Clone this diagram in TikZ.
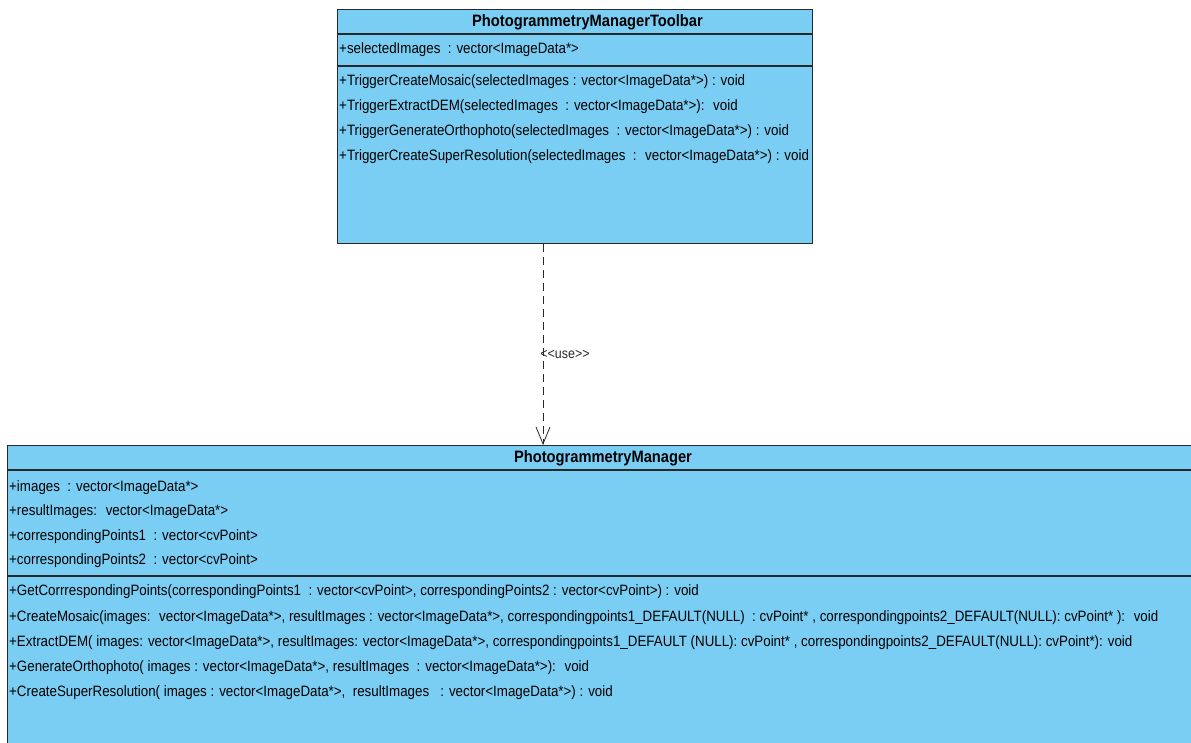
\documentclass[tikz,border=0pt]{standalone}
\usepackage{fontspec}
\setmainfont{Liberation Sans}[FakeStretch=0.89]
\usepackage{xcolor}
\definecolor{umlblue}{RGB}{122,206,244}
\definecolor{umledge}{RGB}{40,40,40}
\usetikzlibrary{arrows.meta}
\tikzset{
  classbox/.style={draw=umledge,fill=umlblue,line width=1.3pt,anchor=north west,inner sep=0pt},
  member/.style={anchor=west,inner sep=0pt,font=\fontsize{15}{17}\selectfont},
  classname/.style={inner sep=0pt,font=\fontsize{16.5}{18}\selectfont\bfseries},
  usedep/.style={umledge,line width=0.8pt,dash pattern=on 8pt off 5pt,-{Straight Barb[length=17pt,width=14pt,line width=0.8pt]}}
}

\begin{document}
\begin{tikzpicture}[x=1pt,y=-1pt]
  \useasboundingbox (0,0) rectangle (1191,742);
  \clip (0,0) rectangle (1191,742);
  % toolbar class
  \node[classbox,minimum width=475pt,minimum height=234pt] (toolbar) at (337,9) {};
  \draw[umledge,line width=1.3pt] ([yshift=-25pt]toolbar.north west) -- ([yshift=-25pt]toolbar.north east);
  \draw[umledge,line width=1.3pt] ([yshift=-57pt]toolbar.north west) -- ([yshift=-57pt]toolbar.north east);
  \node[classname] (tbname) at (587.5,22) {PhotogrammetryManagerToolbar};
  \node[member] (tbattr) at (339,50) {+selectedImages \ : vector<ImageData*>};
  \node[member] (tbop1) at (339,82) {+TriggerCreateMosaic(selectedImages : vector<ImageData*>) : void};
  \node[member] (tbop2) at (339,107) {+TriggerExtractDEM(selectedImages \ : vector<ImageData*>): \ void};
  \node[member] (tbop3) at (339,132) {+TriggerGenerateOrthophoto(selectedImages \ : vector<ImageData*>) : void};
  \node[member] (tbop4) at (339,157) {+TriggerCreateSuperResolution(selectedImages \ : \ vector<ImageData*>) : void};
  % manager class
  \node[classbox,minimum width=1200pt,minimum height=310pt] (manager) at (7,445) {};
  \draw[umledge,line width=1.3pt] ([yshift=-25pt]manager.north west) -- ([yshift=-25pt]manager.north east);
  \draw[umledge,line width=1.3pt] ([yshift=-131pt]manager.north west) -- ([yshift=-131pt]manager.north east);
  \node[classname] (mgname) at (603,458) {PhotogrammetryManager};
  \node[member] (mgattr1) at (9,488) {+images \ : vector<ImageData*>};
  \node[member] (mgattr2) at (9,512) {+resultImages: \ vector<ImageData*>};
  \node[member] (mgattr3) at (9,537) {+correspondingPoints1 \ : vector<cvPoint>};
  \node[member] (mgattr4) at (9,561) {+correspondingPoints2 \ : vector<cvPoint>};
  \node[member] (mgop1) at (9,592) {+GetCorrrespondingPoints(correspondingPoints1 \ : vector<cvPoint>, correspondingPoints2 : vector<cvPoint>) : void};
  \node[member] (mgop2) at (9,618) {+CreateMosaic(images: \ vector<ImageData*>, resultImages : vector<ImageData*>, correspondingpoints1\_DEFAULT(NULL) \ : cvPoint* , correspondingpoints2\_DEFAULT(NULL): cvPoint* ): \ void};
  \node[member] (mgop3) at (9,643) {+ExtractDEM( images: vector<ImageData*>, resultImages: vector<ImageData*>, correspondingpoints1\_DEFAULT (NULL): cvPoint* , correspondingpoints2\_DEFAULT(NULL): cvPoint*): void};
  \node[member] (mgop4) at (9,668) {+GenerateOrthophoto( images : vector<ImageData*>, resultImages \ : vector<ImageData*>): \ void};
  \node[member] (mgop5) at (9,693) {+CreateSuperResolution( images : vector<ImageData*>, \ resultImages \ \ : vector<ImageData*>) : void};
  % use dependency
  \draw[usedep] (toolbar.south -| 543,0) -- (manager.north -| 543,0)
    node[pos=0.55,anchor=west,inner sep=0pt,font=\fontsize{14}{16}\selectfont,xshift=-3pt] (uselabel) {<{}<use>{}>};
\end{tikzpicture}
\end{document}
